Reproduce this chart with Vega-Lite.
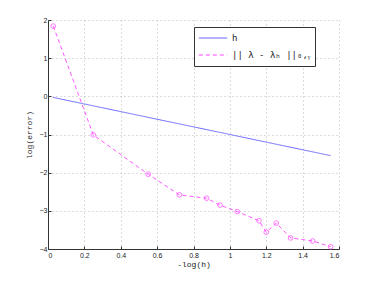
{
  "$schema": "https://vega.github.io/schema/vega-lite/v6.json",
  "width": 291,
  "height": 229,
  "autosize": {"type": "none"},
  "padding": {"left": 48, "top": 20, "right": 35, "bottom": 32},
  "background": "white",
  "data": {
    "values": [
      {"x": 0.029, "y": -0.029, "series": "h"},
      {"x": 0.551, "y": -0.551, "series": "h"},
      {"x": 1.041, "y": -1.041, "series": "h"},
      {"x": 1.554, "y": -1.554, "series": "h"},
      {"x": 0.029, "y": 1.84, "series": "|| λ - λₕ ||₀,ᵧ"},
      {"x": 0.249, "y": -1.01, "series": "|| λ - λₕ ||₀,ᵧ"},
      {"x": 0.551, "y": -2.04, "series": "|| λ - λₕ ||₀,ᵧ"},
      {"x": 0.722, "y": -2.58, "series": "|| λ - λₕ ||₀,ᵧ"},
      {"x": 0.872, "y": -2.67, "series": "|| λ - λₕ ||₀,ᵧ"},
      {"x": 0.946, "y": -2.85, "series": "|| λ - λₕ ||₀,ᵧ"},
      {"x": 1.041, "y": -3.02, "series": "|| λ - λₕ ||₀,ᵧ"},
      {"x": 1.16, "y": -3.26, "series": "|| λ - λₕ ||₀,ᵧ"},
      {"x": 1.2, "y": -3.56, "series": "|| λ - λₕ ||₀,ᵧ"},
      {"x": 1.255, "y": -3.32, "series": "|| λ - λₕ ||₀,ᵧ"},
      {"x": 1.334, "y": -3.71, "series": "|| λ - λₕ ||₀,ᵧ"},
      {"x": 1.455, "y": -3.79, "series": "|| λ - λₕ ||₀,ᵧ"},
      {"x": 1.554, "y": -3.94, "series": "|| λ - λₕ ||₀,ᵧ"}
    ]
  },
  "config": {
    "view": {"stroke": null},
    "axis": {
      "labelFont": "Liberation Sans",
      "labelFontSize": 7,
      "labelColor": "#222222",
      "titleFont": "Liberation Mono",
      "titleFontSize": 8,
      "titleFontWeight": "normal",
      "titleColor": "#222222",
      "domainColor": "#333333",
      "tickColor": "#333333",
      "tickSize": -3,
      "gridColor": "#b0b0b0",
      "gridDash": [1, 3],
      "gridWidth": 0.9
    }
  },
  "encoding": {
    "x": {
      "field": "x",
      "type": "quantitative",
      "scale": {"domain": [0, 1.6], "nice": false},
      "axis": {"title": "-log(h)", "values": [0, 0.2, 0.4, 0.6, 0.8, 1, 1.2, 1.4, 1.6], "format": "~g", "labelPadding": 5, "titlePadding": 2}
    },
    "y": {
      "field": "y",
      "type": "quantitative",
      "scale": {"domain": [-4, 2], "nice": false},
      "axis": {"title": "log(error)", "values": [-4, -3, -2, -1, 0, 1, 2], "format": "~g", "labelPadding": 4, "titlePadding": 6}
    }
  },
  "layer": [
    {
      "mark": {"type": "line", "strokeWidth": 0.9},
      "encoding": {
        "color": {
          "field": "series",
          "type": "nominal",
          "scale": {"domain": ["h", "|| λ - λₕ ||₀,ᵧ"], "range": ["#5b5bff", "#ff44ff"]},
          "legend": {
            "title": null,
            "orient": "none",
            "legendX": 146,
            "legendY": 7,
            "symbolType": "stroke",
            "symbolSize": 800,
            "symbolStrokeWidth": 1,
            "symbolStrokeColor": null,
            "clipHeight": 14,
            "labelFont": "DejaVu Sans Mono",
            "labelFontSize": 9,
            "labelColor": "#222222",
            "labelOffset": 4,
            "strokeColor": "#333333",
            "fillColor": "white",
            "padding": 4,
            "rowPadding": 3,
            "labelLimit": 200
          }
        },
        "strokeDash": {
          "field": "series",
          "type": "nominal",
          "scale": {"domain": ["h", "|| λ - λₕ ||₀,ᵧ"], "range": [[1, 0], [4, 3]]},
          "legend": null
        }
      }
    },
    {
      "transform": [{"filter": "datum.series !== 'h'"}],
      "mark": {"type": "point", "shape": "circle", "filled": false, "size": 22, "color": "#ff44ff", "strokeWidth": 1}
    }
  ]
}
